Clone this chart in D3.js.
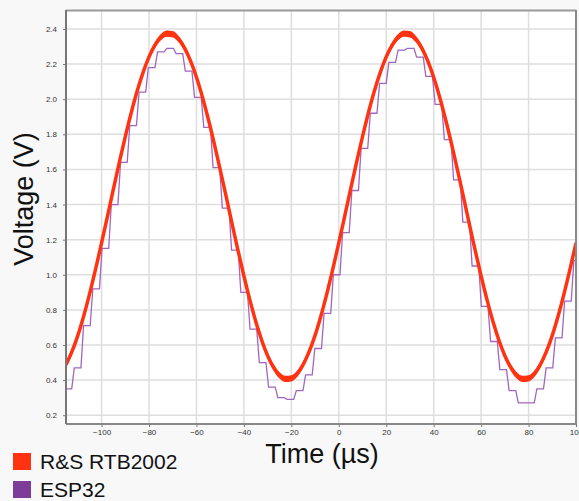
<!DOCTYPE html>
<html>
<head>
<meta charset="utf-8">
<script src="https://cdn.jsdelivr.net/npm/d3@7"></script>
<style>
  html, body { margin: 0; padding: 0; background: #f8f8f8; }
  svg { display: block; font-family: "Liberation Sans", Arial, sans-serif; }
</style>
</head>
<body>
<div id="chart"></div>
<script>
// oscilloscope reference (R&S) vs ESP32 ADC samples, 10 kHz sine
const seriesNames = ["R&S RTB2002", "ESP32"];
const seriesColors = ["#ff3311", "#7d3c98"];

const xTicks = [-100, -80, -60, -40, -20, 0, 20, 40, 60, 80, 100];
const yTicks = [0.2, 0.4, 0.6, 0.8, 1.0, 1.2, 1.4, 1.6, 1.8, 2.0, 2.2, 2.4];

// scope trace, read every 2.5 µs from -115 to 100
const rsTime = d3.range(-115, 100.01, 2.5);
const rsVolt = [
  0.488, 0.562, 0.655, 0.767, 0.894, 1.033, 1.181, 1.334, 1.489, 1.641,
  1.787, 1.923, 2.046, 2.153, 2.241, 2.308, 2.353, 2.373, 2.370, 2.342,
  2.291, 2.218, 2.125, 2.013, 1.886, 1.747, 1.599, 1.446, 1.291, 1.139,
  0.993, 0.857, 0.734, 0.627, 0.539, 0.472, 0.427, 0.407, 0.410, 0.437,
  0.489, 0.562, 0.655, 0.767, 0.894, 1.033, 1.181, 1.334, 1.489, 1.641,
  1.787, 1.923, 2.046, 2.153, 2.241, 2.308, 2.353, 2.373, 2.370, 2.342,
  2.291, 2.218, 2.125, 2.013, 1.886, 1.747, 1.599, 1.446, 1.291, 1.139,
  0.993, 0.857, 0.734, 0.627, 0.539, 0.472, 0.427, 0.407, 0.410, 0.437,
  0.489, 0.562, 0.655, 0.767, 0.894, 1.033, 1.181
];

// ESP32 samples (start of each held value)
const espTime = [
  -115.4, -111.5, -107.6, -103.7, -99.8, -95.9, -92.0, -88.1, -84.2, -80.3,
  -76.4, -72.5, -68.6, -64.7, -60.8, -56.9, -53.0, -49.1, -45.2, -41.3,
  -37.4, -33.5, -29.6, -25.7, -21.8, -17.9, -14.0, -10.1, -6.2, -2.3,
  1.6, 5.5, 9.4, 13.3, 17.2, 21.1, 25.0, 28.9, 32.8, 36.7,
  40.6, 44.5, 48.4, 52.3, 56.2, 60.1, 64.0, 67.9, 71.8, 75.7,
  79.6, 83.5, 87.4, 91.3, 95.2, 99.1
];
const espVolt = [
  0.35, 0.47, 0.71, 0.92, 1.15, 1.40, 1.64, 1.85, 2.04, 2.18,
  2.27, 2.29, 2.26, 2.16, 2.01, 1.84, 1.61, 1.38, 1.14, 0.90,
  0.69, 0.50, 0.36, 0.30, 0.29, 0.34, 0.43, 0.58, 0.78, 1.00,
  1.24, 1.48, 1.72, 1.92, 2.09, 2.21, 2.28, 2.29, 2.24, 2.13,
  1.97, 1.77, 1.54, 1.30, 1.05, 0.82, 0.62, 0.46, 0.34, 0.27,
  0.27, 0.35, 0.47, 0.64, 0.85, 1.08
];

const W = 579, H = 501;
const plot = { left: 66, top: 10, right: 576, bottom: 424 };
const hold = 2.8;      // µs each ADC value is held
const noise = 0.018;   // half width of scope noise band (V)

const svg = d3.select("#chart").append("svg")
  .attr("width", W).attr("height", H);

const x = d3.scaleLinear().domain([-115, 100]).range([plot.left, plot.right]);
const y = d3.scaleLinear().domain([0.15, 2.508]).range([plot.bottom, plot.top]);

svg.append("rect")
  .attr("x", plot.left).attr("y", plot.top)
  .attr("width", plot.right - plot.left).attr("height", plot.bottom - plot.top)
  .attr("fill", "#fff");

svg.append("defs").append("clipPath").attr("id", "clip")
  .append("rect")
  .attr("x", plot.left).attr("y", plot.top)
  .attr("width", plot.right - plot.left).attr("height", plot.bottom - plot.top);

// grid
svg.append("g").selectAll("line").data(xTicks).join("line")
  .attr("x1", d => x(d)).attr("x2", d => x(d))
  .attr("y1", plot.top).attr("y2", plot.bottom)
  .attr("stroke", "#dedede").attr("stroke-width", 1.5);
svg.append("g").selectAll("line").data(yTicks).join("line")
  .attr("x1", plot.left).attr("x2", plot.right)
  .attr("y1", d => y(d)).attr("y2", d => y(d))
  .attr("stroke", "#dedede").attr("stroke-width", 1.5);

// axes
const xAxis = svg.append("g")
  .attr("transform", `translate(0,${plot.bottom})`)
  .call(d3.axisBottom(x).tickValues(xTicks).tickSize(3).tickPadding(2));
const yAxis = svg.append("g")
  .attr("transform", `translate(${plot.left},0)`)
  .call(d3.axisLeft(y).tickValues(yTicks).tickSize(3).tickPadding(6)
    .tickFormat(d3.format(".1f")));
[xAxis, yAxis].forEach(g => {
  g.select(".domain").remove();
  g.selectAll("line").attr("stroke", "#777");
  g.selectAll("text").attr("fill", "#333")
    .style("font-size", "8px").style("font-family", "Liberation Sans, Arial, sans-serif");
});

// series
const lines = svg.append("g").attr("clip-path", "url(#clip)");

const espPts = [];
espTime.forEach((t, i) => {
  espPts.push([t, espVolt[i]]);
  espPts.push([t + hold, espVolt[i]]);
});
lines.append("path")
  .datum(espPts)
  .attr("fill", "none")
  .attr("stroke", "#a066c0")
  .attr("stroke-width", 1.3)
  .attr("d", d3.line().x(d => x(d[0])).y(d => y(d[1])));

const rsPts = rsTime.map((t, i) => [t, rsVolt[i]]);
lines.append("path")
  .datum(rsPts)
  .attr("fill", seriesColors[0])
  .attr("d", d3.area().curve(d3.curveMonotoneX)
    .x(d => x(d[0])).y0(d => y(d[1] - noise)).y1(d => y(d[1] + noise)));
lines.append("path")
  .datum(rsPts)
  .attr("fill", "none")
  .attr("stroke", seriesColors[0])
  .attr("stroke-width", 3.5)
  .attr("d", d3.line().curve(d3.curveMonotoneX).x(d => x(d[0])).y(d => y(d[1])));

// frame
svg.append("line").attr("x1", plot.left).attr("x2", plot.right)
  .attr("y1", plot.top + 0.5).attr("y2", plot.top + 0.5)
  .attr("stroke", "#999").attr("stroke-width", 2);
svg.append("line").attr("x1", plot.right).attr("x2", plot.right)
  .attr("y1", plot.top).attr("y2", plot.bottom)
  .attr("stroke", "#888").attr("stroke-width", 2);
svg.append("line").attr("x1", plot.left).attr("x2", plot.right)
  .attr("y1", plot.bottom).attr("y2", plot.bottom)
  .attr("stroke", "#888").attr("stroke-width", 2);
svg.append("line").attr("x1", plot.left).attr("x2", plot.left)
  .attr("y1", plot.top).attr("y2", plot.bottom)
  .attr("stroke", "#777").attr("stroke-width", 2);

// axis titles
svg.append("text")
  .attr("x", 322).attr("y", 463)
  .attr("text-anchor", "middle")
  .style("font-size", "27px").attr("fill", "#111")
  .text("Time (µs)");
svg.append("text")
  .attr("transform", "translate(33,199) rotate(-90)")
  .attr("text-anchor", "middle")
  .style("font-size", "27px").attr("fill", "#111")
  .text("Voltage (V)");

// legend
const legend = svg.append("g").selectAll("g").data(seriesNames).join("g")
  .attr("transform", (d, i) => `translate(13,${453 + i * 28})`);
legend.append("rect")
  .attr("width", 18).attr("height", 17)
  .attr("fill", (d, i) => seriesColors[i]);
legend.append("text")
  .attr("x", 27).attr("y", 16)
  .style("font-size", "21px").attr("fill", "#111")
  .text(d => d);
</script>
</body>
</html>
